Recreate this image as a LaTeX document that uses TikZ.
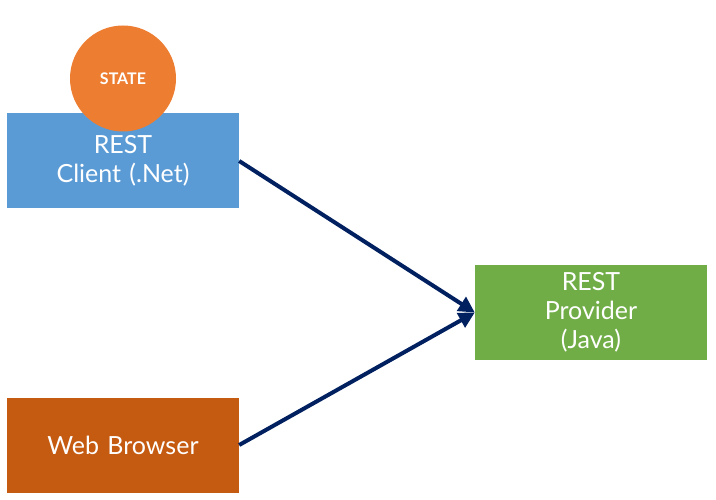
\documentclass[tikz,border=0pt]{standalone}
\usepackage{fontspec}
\setmainfont{Lato}
\usepackage{xcolor}
\usetikzlibrary{shapes.geometric, arrows.meta, positioning}
\definecolor{clientblue}{HTML}{5B9BD5}
\definecolor{stateorange}{HTML}{ED7D31}
\definecolor{browserorange}{HTML}{C55A11}
\definecolor{providergreen}{HTML}{70AD47}
\definecolor{arrownavy}{HTML}{002060}
\tikzstyle{block} = [rectangle, 
minimum width=232pt, 
minimum height=95pt, 
text centered, 
text width=220pt, 
text=white, 
font=\fontsize{25}{29}\selectfont]
\tikzstyle{statecircle} = [circle, 
minimum size=106pt, 
fill=stateorange, 
text=white, 
font=\fontsize{16}{18}\selectfont\bfseries]
\tikzstyle{arrow} = [line width=4pt,-{Triangle[length=16pt,width=16pt]},draw=arrownavy]

\begin{document}
\begin{tikzpicture}[x=1pt, y=-1pt]
        \useasboundingbox (0,0) rectangle (716,500);
        % Bloques
        \node [block, fill=clientblue] (client) at (123,161) {REST\\ Client (.Net)};
        \node [statecircle] (state) at (123,78.5) {STATE};
        \node [block, fill=browserorange] (browser) at (123,445) {Web Browser};
        \node [block, fill=providergreen] (provider) at (591,312.5) {REST\\ Provider\\ (Java)};

        % Conexiones hacia el proveedor
        \path [arrow] (client.east) -- (provider.west);
        \path [arrow] (browser.east) -- (provider.west);
    \end{tikzpicture}
\end{document}
